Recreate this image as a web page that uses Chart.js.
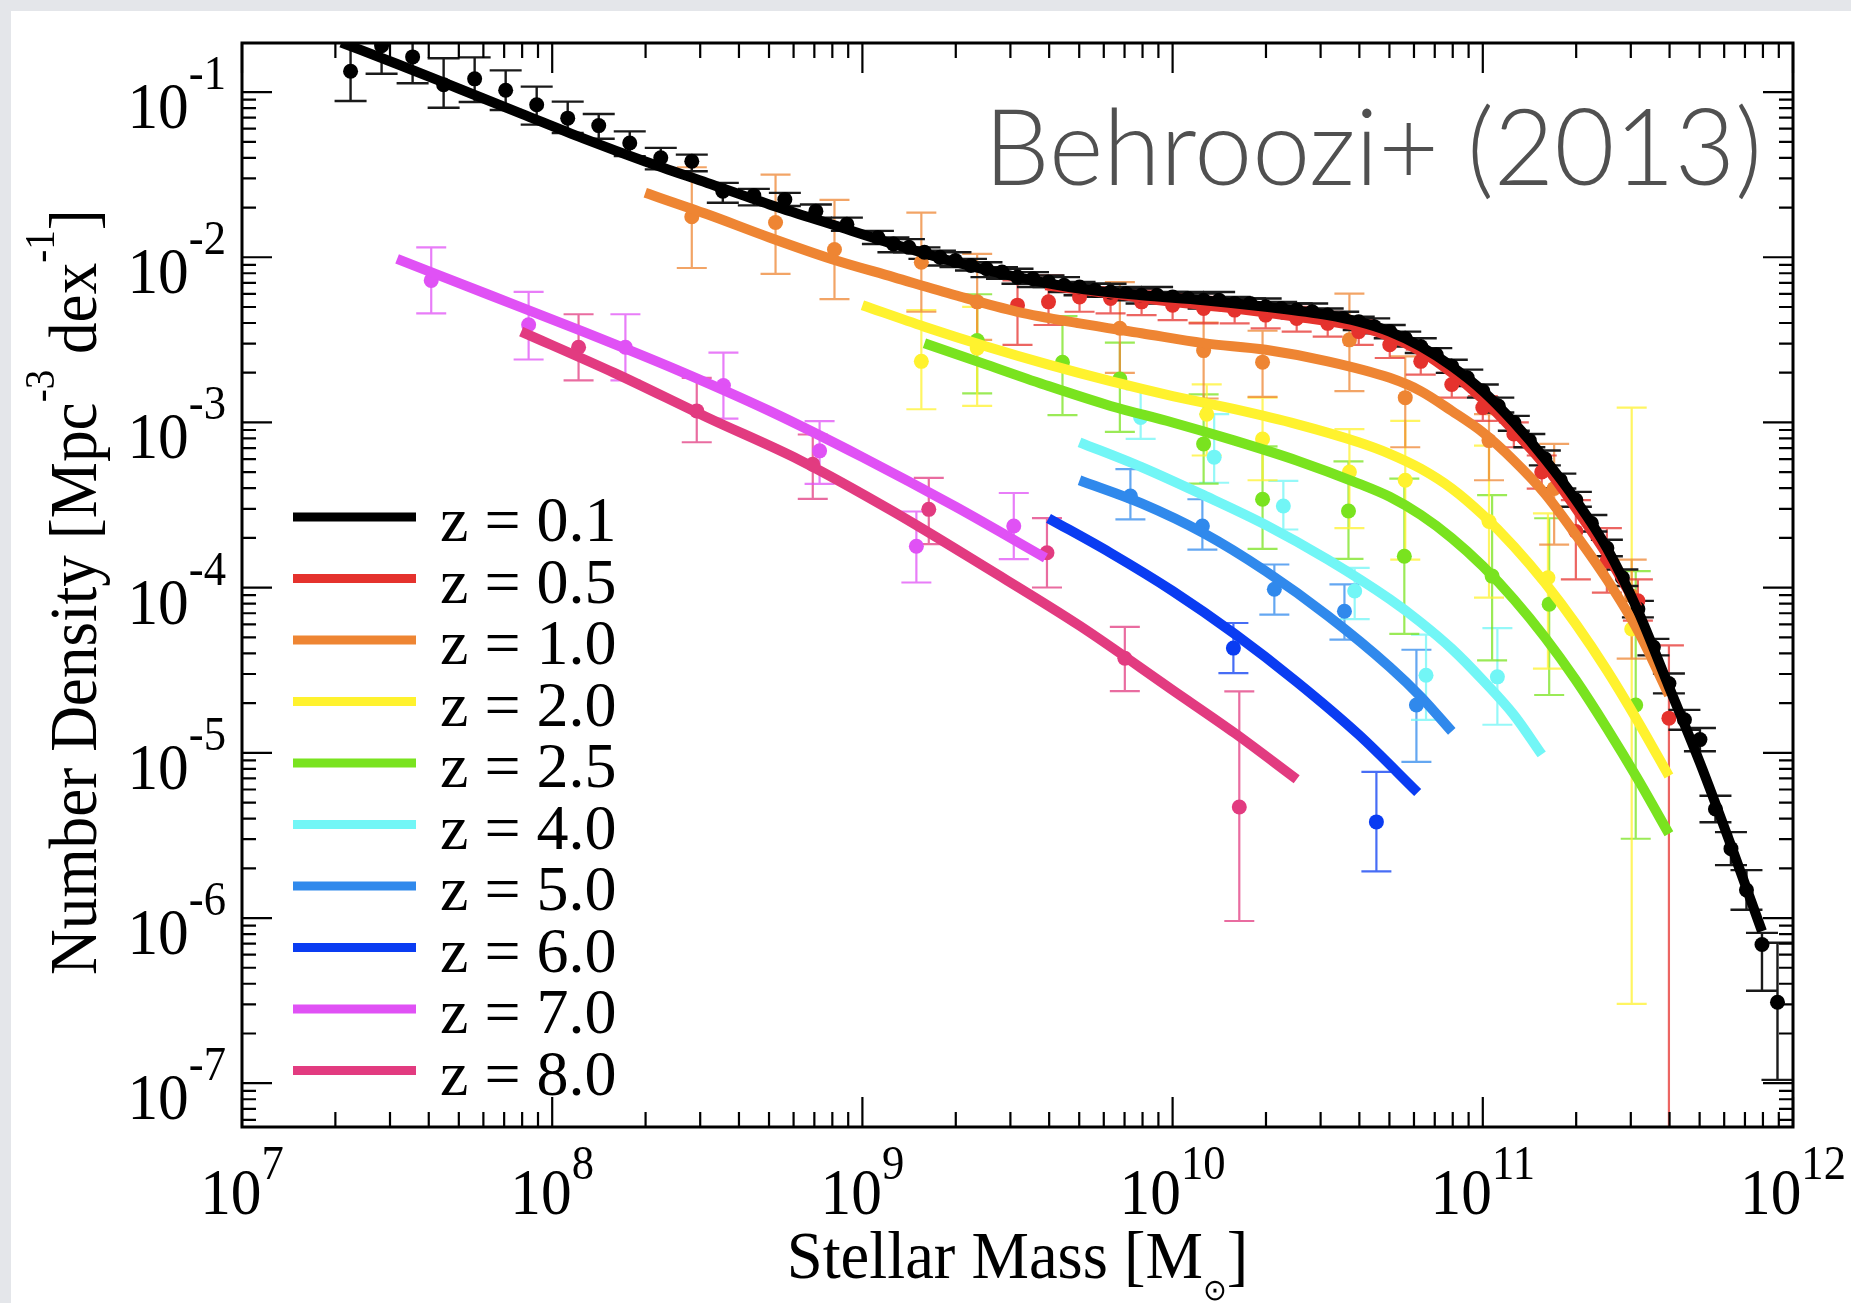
<!DOCTYPE html>
<html>
<head>
<meta charset="utf-8">
<title>Behroozi+ (2013) stellar mass functions</title>
<script src="https://cdn.jsdelivr.net/npm/chart.js@4.4.1/dist/chart.umd.min.js"></script>
<style>
  html, body { margin: 0; padding: 0; background: #e4e6ea; }
  canvas { display: block; }
</style>
</head>
<body>
<canvas id="smf" width="1851" height="1303"></canvas>
<script>
// axis ranges (log10) and tick exponents
const xRange = [7, 12];
const yRange = [-7.265, -0.703];
const xTickExps = [7, 8, 9, 10, 11, 12];
const yTickExps = [-7, -6, -5, -4, -3, -2, -1];

const zLabels = ['z = 0.1', 'z = 0.5', 'z = 1.0', 'z = 2.0', 'z = 2.5', 'z = 4.0', 'z = 5.0', 'z = 6.0', 'z = 7.0', 'z = 8.0'];
const zColors = ['#000000', '#e5322d', '#ee8533', '#fff22e', '#79e31f', '#72f6f6', '#3089ec', '#0a3cf2', '#e051f5', '#e23b80'];

// model fits: log10 stellar mass / log10 number density
const fitMass_z01 = [7.32, 7.5, 7.7, 7.9, 8.1, 8.3, 8.5, 8.7, 8.9, 9.1, 9.3, 9.5, 9.7, 9.9, 10.1, 10.3, 10.5, 10.6, 10.7, 10.8, 10.9, 11.0, 11.1, 11.2, 11.3, 11.4, 11.5, 11.6, 11.7, 11.8, 11.9];
const fitPhi_z01 = [-0.70, -0.83, -0.98, -1.13, -1.28, -1.42, -1.55, -1.68, -1.80, -1.92, -2.03, -2.12, -2.19, -2.23, -2.26, -2.30, -2.35, -2.39, -2.45, -2.54, -2.66, -2.81, -3.00, -3.22, -3.47, -3.76, -4.14, -4.60, -5.06, -5.56, -6.08];
const fitMass_z05 = [9.59, 9.8, 10.0, 10.2, 10.4, 10.6, 10.7, 10.8, 10.9, 11.0, 11.1, 11.2, 11.3, 11.4, 11.5];
const fitPhi_z05 = [-2.17, -2.22, -2.27, -2.31, -2.36, -2.42, -2.48, -2.57, -2.70, -2.86, -3.05, -3.26, -3.52, -3.80, -4.12];
const fitMass_z10 = [8.30, 8.5, 8.7, 8.9, 9.1, 9.3, 9.5, 9.7, 9.9, 10.1, 10.3, 10.5, 10.7, 10.8, 10.9, 11.0, 11.1, 11.2, 11.3, 11.4, 11.5, 11.6];
const fitPhi_z10 = [-1.61, -1.74, -1.88, -2.01, -2.12, -2.23, -2.33, -2.40, -2.46, -2.52, -2.56, -2.63, -2.73, -2.81, -2.93, -3.06, -3.23, -3.43, -3.68, -3.95, -4.26, -4.65];
const fitMass_z20 = [9.0, 9.2, 9.4, 9.6, 9.8, 10.0, 10.2, 10.4, 10.6, 10.7, 10.8, 10.9, 11.0, 11.1, 11.2, 11.3, 11.4, 11.5, 11.6];
const fitPhi_z20 = [-2.29, -2.42, -2.54, -2.65, -2.75, -2.84, -2.92, -3.01, -3.12, -3.19, -3.28, -3.40, -3.56, -3.75, -3.97, -4.22, -4.50, -4.81, -5.14];
const fitMass_z25 = [9.2, 9.4, 9.6, 9.8, 10.0, 10.2, 10.4, 10.6, 10.7, 10.8, 10.9, 11.0, 11.1, 11.2, 11.3, 11.4, 11.5, 11.6];
const fitPhi_z25 = [-2.52, -2.65, -2.78, -2.90, -3.00, -3.11, -3.23, -3.37, -3.45, -3.56, -3.70, -3.87, -4.07, -4.30, -4.56, -4.85, -5.16, -5.49];
const fitMass_z40 = [9.70, 9.9, 10.1, 10.3, 10.5, 10.7, 10.8, 10.9, 11.0, 11.1, 11.19];
const fitPhi_z40 = [-3.12, -3.27, -3.44, -3.62, -3.83, -4.07, -4.21, -4.37, -4.56, -4.77, -5.01];
const fitMass_z50 = [9.70, 9.9, 10.1, 10.3, 10.5, 10.7, 10.8, 10.9];
const fitPhi_z50 = [-3.35, -3.49, -3.67, -3.90, -4.17, -4.48, -4.66, -4.87];
const fitMass_z60 = [9.60, 9.8, 10.0, 10.2, 10.4, 10.6, 10.79];
const fitPhi_z60 = [-3.58, -3.79, -4.02, -4.28, -4.57, -4.89, -5.24];
const fitMass_z70 = [7.50, 7.8, 8.1, 8.4, 8.7, 9.0, 9.3, 9.59];
const fitPhi_z70 = [-2.01, -2.23, -2.45, -2.68, -2.93, -3.21, -3.51, -3.82];
const fitMass_z80 = [7.90, 8.2, 8.5, 8.8, 9.1, 9.4, 9.7, 10.0, 10.2, 10.40];
const fitPhi_z80 = [-2.45, -2.70, -2.97, -3.23, -3.54, -3.88, -4.23, -4.62, -4.88, -5.16];

// observations: log10 mass, log10 density, error down / up (dex)
const obsMass_z01 = [7.35, 7.45, 7.55, 7.65, 7.75, 7.85, 7.95, 8.05, 8.15, 8.25, 8.35, 8.45, 8.55, 8.65, 8.75, 8.85, 8.95,
  9.05, 9.10, 9.15, 9.20, 9.25, 9.30, 9.35, 9.40, 9.45, 9.50, 9.55, 9.60, 9.65, 9.70, 9.75, 9.80, 9.85, 9.90, 9.95,
  10.00, 10.05, 10.10, 10.15, 10.20, 10.25, 10.30, 10.35, 10.40, 10.45, 10.50, 10.55, 10.60, 10.65, 10.70, 10.75, 10.80, 10.85, 10.90, 10.95,
  11.00, 11.05, 11.10, 11.15, 11.20, 11.25, 11.30, 11.35, 11.40, 11.45, 11.50, 11.55, 11.60, 11.65, 11.70, 11.75, 11.80, 11.85, 11.90, 11.95];
const obsPhi_z01 = [-0.874, -0.719, -0.787, -0.955, -0.920, -0.989, -1.077, -1.158, -1.203, -1.308, -1.398, -1.419, -1.600, -1.626, -1.650, -1.721, -1.800,
  -1.88, -1.92, -1.94, -1.97, -2.00, -2.02, -2.05, -2.07, -2.09, -2.12, -2.13, -2.15, -2.17, -2.18, -2.20, -2.21, -2.22, -2.23, -2.23,
  -2.24, -2.25, -2.26, -2.26, -2.28, -2.28, -2.30, -2.31, -2.32, -2.33, -2.35, -2.37, -2.39, -2.42, -2.45, -2.49, -2.54, -2.59, -2.66, -2.73,
  -2.81, -2.90, -3.00, -3.11, -3.22, -3.35, -3.47, -3.61, -3.76, -3.94, -4.13, -4.36, -4.58, -4.80, -4.92, -5.34, -5.58, -5.83, -6.16, -6.51];
const obsErrDn_z01 = [0.18, 0.17, 0.16, 0.14, 0.14, 0.12, 0.12, 0.09, 0.08, 0.08, 0.07, 0.06, 0.07, 0.06, 0.04, 0.04, 0.04,
  0.04, 0.05, 0.03, 0.04, 0.05, 0.04, 0.03, 0.05, 0.04, 0.04, 0.05, 0.03, 0.04, 0.05, 0.04, 0.03, 0.04, 0.05, 0.04,
  0.04, 0.03, 0.05, 0.04, 0.04, 0.05, 0.03, 0.04, 0.05, 0.04, 0.04, 0.03, 0.05, 0.04, 0.04, 0.05, 0.04, 0.03, 0.04, 0.05,
  0.04, 0.04, 0.05, 0.04, 0.04, 0.05, 0.04, 0.05, 0.05, 0.05, 0.05, 0.05, 0.06, 0.06, 0.07, 0.08, 0.10, 0.12, 0.28, 0.47];
const obsErrUp_z01 = [0.18, 0.17, 0.16, 0.16, 0.13, 0.12, 0.11, 0.10, 0.07, 0.07, 0.06, 0.04, 0.05, 0.04, 0.04, 0.04, 0.04,
  0.04, 0.04, 0.05, 0.03, 0.04, 0.05, 0.04, 0.04, 0.03, 0.05, 0.04, 0.04, 0.05, 0.03, 0.04, 0.05, 0.04, 0.04, 0.05,
  0.03, 0.04, 0.04, 0.05, 0.04, 0.03, 0.05, 0.04, 0.04, 0.05, 0.04, 0.04, 0.03, 0.05, 0.04, 0.04, 0.05, 0.04, 0.04, 0.05,
  0.04, 0.05, 0.04, 0.04, 0.05, 0.04, 0.05, 0.05, 0.05, 0.05, 0.05, 0.05, 0.06, 0.06, 0.07, 0.08, 0.10, 0.12, 0.07, 0.36];

const obsMass_z05 = [9.50, 9.60, 9.70, 9.80, 9.90, 10.00, 10.10, 10.20, 10.30, 10.40, 10.50, 10.60, 10.70, 10.80, 10.90, 11.00, 11.10, 11.19, 11.30, 11.40, 11.50, 11.60];
const obsPhi_z05 = [-2.29, -2.27, -2.24, -2.25, -2.27, -2.29, -2.31, -2.32, -2.35, -2.37, -2.40, -2.45, -2.53, -2.63, -2.77, -2.91, -3.07, -3.30, -3.66, -3.84, -4.08, -4.79];
const obsErrDn_z05 = [0.24, 0.14, 0.09, 0.09, 0.08, 0.09, 0.09, 0.08, 0.08, 0.08, 0.08, 0.08, 0.08, 0.08, 0.08, 0.08, 0.08, 0.10, 0.29, 0.19, 0.12, 5.0];
const obsErrUp_z05 = [0.15, 0.16, 0.07, 0.07, 0.07, 0.07, 0.07, 0.07, 0.07, 0.07, 0.07, 0.07, 0.07, 0.07, 0.07, 0.07, 0.07, 0.10, 0.19, 0.20, 0.13, 0.44];

const obsMass_z10 = [8.45, 8.72, 8.91, 9.19, 9.37, 9.83, 10.10, 10.29, 10.57, 10.75, 11.02, 11.23, 11.48];
const obsPhi_z10 = [-1.755, -1.79, -1.953, -2.03, -2.27, -2.43, -2.565, -2.635, -2.50, -2.85, -3.11, -3.40, -4.05];
const obsErrDn_z10 = [0.31, 0.31, 0.30, 0.30, 0.23, 0.27, 0.29, 0.21, 0.31, 0.30, 0.24, 0.34, 0.38];
const obsErrUp_z10 = [0.30, 0.29, 0.30, 0.30, 0.29, 0.28, 0.17, 0.19, 0.28, 0.25, 0.16, 0.27, 0.22];

const obsMass_z20 = [9.19, 9.37, 10.11, 10.29, 10.57, 10.75, 11.02, 11.21, 11.48];
const obsPhi_z20 = [-2.63, -2.55, -2.95, -3.10, -3.30, -3.35, -3.60, -3.94, -4.25];
const obsErrDn_z20 = [0.29, 0.35, 0.25, 0.25, 0.34, 0.48, 0.46, 0.55, 2.27];
const obsErrUp_z20 = [0.31, 0.25, 0.18, 0.25, 0.26, 0.36, 0.46, 0.39, 1.34];

const obsMass_z25 = [9.37, 9.645, 9.83, 10.10, 10.29, 10.567, 10.747, 11.03, 11.214, 11.493];
const obsPhi_z25 = [-2.504, -2.636, -2.737, -3.13, -3.465, -3.536, -3.81, -3.93, -4.10, -4.71];
const obsErrDn_z25 = [0.32, 0.32, 0.32, 0.24, 0.30, 0.29, 0.47, 0.51, 0.55, 0.81];
const obsErrUp_z25 = [0.28, 0.28, 0.22, 0.30, 0.32, 0.30, 0.47, 0.49, 0.52, 0.81];

const obsMass_z40 = [9.897, 10.134, 10.357, 10.587, 10.817, 11.047];
const obsPhi_z40 = [-2.97, -3.21, -3.506, -4.02, -4.53, -4.54];
const obsErrDn_z40 = [0.13, 0.155, 0.142, 0.17, 0.27, 0.29];
const obsErrUp_z40 = [0.17, 0.26, 0.152, 0.14, 0.245, 0.295];

const obsMass_z50 = [9.864, 10.096, 10.328, 10.554, 10.786];
const obsPhi_z50 = [-3.445, -3.627, -4.01, -4.143, -4.71];
const obsErrDn_z50 = [0.142, 0.143, 0.153, 0.172, 0.345];
const obsErrUp_z50 = [0.162, 0.162, 0.15, 0.163, 0.334];

const obsMass_z60 = [10.196, 10.657];
const obsPhi_z60 = [-4.366, -5.418];
const obsErrDn_z60 = [0.152, 0.30];
const obsErrUp_z60 = [0.152, 0.303];

const obsMass_z70 = [7.61, 7.924, 8.236, 8.552, 8.862, 9.174, 9.488];
const obsPhi_z70 = [-2.14, -2.409, -2.545, -2.777, -3.172, -3.749, -3.627];
const obsErrDn_z70 = [0.20, 0.21, 0.20, 0.20, 0.20, 0.22, 0.20];
const obsErrUp_z70 = [0.20, 0.20, 0.20, 0.20, 0.18, 0.21, 0.20];

const obsMass_z80 = [8.085, 8.466, 8.84, 9.214, 9.595, 9.846, 10.215];
const obsPhi_z80 = [-2.545, -2.93, -3.253, -3.526, -3.789, -4.427, -5.328];
const obsErrDn_z80 = [0.20, 0.19, 0.21, 0.21, 0.21, 0.20, 0.69];
const obsErrUp_z80 = [0.20, 0.20, 0.18, 0.19, 0.21, 0.19, 0.70];

const series = [
  { fitM: fitMass_z01, fitP: fitPhi_z01, m: obsMass_z01, p: obsPhi_z01, dn: obsErrDn_z01, up: obsErrUp_z01 },
  { fitM: fitMass_z05, fitP: fitPhi_z05, m: obsMass_z05, p: obsPhi_z05, dn: obsErrDn_z05, up: obsErrUp_z05 },
  { fitM: fitMass_z10, fitP: fitPhi_z10, m: obsMass_z10, p: obsPhi_z10, dn: obsErrDn_z10, up: obsErrUp_z10 },
  { fitM: fitMass_z20, fitP: fitPhi_z20, m: obsMass_z20, p: obsPhi_z20, dn: obsErrDn_z20, up: obsErrUp_z20 },
  { fitM: fitMass_z25, fitP: fitPhi_z25, m: obsMass_z25, p: obsPhi_z25, dn: obsErrDn_z25, up: obsErrUp_z25 },
  { fitM: fitMass_z40, fitP: fitPhi_z40, m: obsMass_z40, p: obsPhi_z40, dn: obsErrDn_z40, up: obsErrUp_z40 },
  { fitM: fitMass_z50, fitP: fitPhi_z50, m: obsMass_z50, p: obsPhi_z50, dn: obsErrDn_z50, up: obsErrUp_z50 },
  { fitM: fitMass_z60, fitP: fitPhi_z60, m: obsMass_z60, p: obsPhi_z60, dn: obsErrDn_z60, up: obsErrUp_z60 },
  { fitM: fitMass_z70, fitP: fitPhi_z70, m: obsMass_z70, p: obsPhi_z70, dn: obsErrDn_z70, up: obsErrUp_z70 },
  { fitM: fitMass_z80, fitP: fitPhi_z80, m: obsMass_z80, p: obsPhi_z80, dn: obsErrDn_z80, up: obsErrUp_z80 }
];

const SERIF = '"Liberation Serif", "Times New Roman", serif';
const pow10 = v => Math.pow(10, v);

function alpha(hex, a) {
  const n = parseInt(hex.slice(1), 16);
  return 'rgba(' + (n >> 16) + ',' + ((n >> 8) & 255) + ',' + (n & 255) + ',' + a + ')';
}

// datasets: fit lines first (drawn on top), then points
const datasets = [];
series.forEach((s, i) => {
  datasets.push({
    label: zLabels[i],
    data: s.fitM.map((m, k) => ({ x: pow10(m), y: pow10(s.fitP[k]) })),
    showLine: true,
    borderColor: zColors[i],
    borderWidth: 10,
    pointRadius: 0,
    cubicInterpolationMode: 'monotone',
    fill: false,
    order: i
  });
});
series.forEach((s, i) => {
  datasets.push({
    label: zLabels[i] + ' data',
    data: s.m.map((m, k) => ({ x: pow10(m), y: pow10(s.p[k]) })),
    showLine: false,
    pointRadius: 7.5,
    pointBackgroundColor: zColors[i],
    pointBorderWidth: 0,
    order: 10 + i
  });
});

function runsWidth(ctx, runs) {
  let w = 0;
  runs.forEach(r => { ctx.font = r.size + 'px ' + SERIF; w += ctx.measureText(r.text).width; });
  return w;
}
function drawRuns(ctx, runs, x, y, sx) {
  ctx.save();
  ctx.translate(x, y);
  ctx.scale(sx, 1);
  let cx = 0;
  runs.forEach(r => {
    ctx.font = r.size + 'px ' + SERIF;
    ctx.fillText(r.text, cx, r.dy || 0);
    cx += ctx.measureText(r.text).width;
  });
  ctx.restore();
}

const errorBars = {
  id: 'errorBars',
  beforeDatasetsDraw(chart) {
    const { ctx, chartArea: a, scales: { x, y } } = chart;
    ctx.save();
    ctx.beginPath();
    ctx.rect(a.left, a.top, a.right - a.left, a.bottom - a.top);
    ctx.clip();
    for (let i = series.length - 1; i >= 0; i--) {
      const s = series[i];
      ctx.strokeStyle = i === 0 ? '#1a1a1a' : alpha(zColors[i], 0.75);
      ctx.lineWidth = i === 0 ? 2.4 : 2.2;
      const cap = i === 0 ? 16 : 15;
      s.m.forEach((m, k) => {
        const px = x.getPixelForValue(pow10(m));
        const lo = y.getPixelForValue(pow10(s.p[k] - s.dn[k]));
        const hi = y.getPixelForValue(pow10(s.p[k] + s.up[k]));
        ctx.beginPath();
        ctx.moveTo(px, lo); ctx.lineTo(px, hi);
        ctx.moveTo(px - cap, lo); ctx.lineTo(px + cap, lo);
        ctx.moveTo(px - cap, hi); ctx.lineTo(px + cap, hi);
        ctx.stroke();
      });
    }
    ctx.restore();
  }
};

const background = {
  id: 'background',
  beforeDraw(chart) {
    const ctx = chart.ctx;
    ctx.save();
    ctx.fillStyle = '#e4e6ea';
    ctx.fillRect(0, 0, chart.width, chart.height);
    ctx.fillStyle = '#ffffff';
    ctx.fillRect(11, 11, chart.width - 11, chart.height - 11);
    ctx.restore();
  }
};

const frame = {
  id: 'frame',
  afterDraw(chart) {
    const { ctx, chartArea: a, scales: { x, y } } = chart;
    ctx.save();
    ctx.strokeStyle = '#000';
    ctx.fillStyle = '#000';
    ctx.lineWidth = 3;
    ctx.strokeRect(a.left, a.top, a.right - a.left, a.bottom - a.top);

    // ticks
    ctx.lineWidth = 2.2;
    ctx.beginPath();
    for (let d = xRange[0]; d <= xRange[1]; d++) {
      for (let k = 1; k <= 9; k++) {
        const v = k * pow10(d);
        if (Math.log10(v) > xRange[1] + 1e-9) break;
        const px = x.getPixelForValue(v);
        const len = k === 1 ? 30 : 15;
        ctx.moveTo(px, a.bottom); ctx.lineTo(px, a.bottom - len);
        ctx.moveTo(px, a.top); ctx.lineTo(px, a.top + len);
      }
    }
    for (let d = -8; d <= -1; d++) {
      for (let k = 1; k <= 9; k++) {
        const lv = Math.log10(k * pow10(d));
        if (lv < yRange[0] || lv > yRange[1]) continue;
        const py = y.getPixelForValue(pow10(lv));
        const len = k === 1 ? 30 : 14;
        ctx.moveTo(a.left, py); ctx.lineTo(a.left + len, py);
        ctx.moveTo(a.right, py); ctx.lineTo(a.right - len, py);
      }
    }
    ctx.stroke();

    // tick labels
    ctx.textBaseline = 'alphabetic';
    ctx.textAlign = 'left';
    const sxT = 0.93;
    xTickExps.forEach(e => {
      const runs = [{ text: '10', size: 66 }, { text: String(e), size: 48, dy: -35 }];
      const w = runsWidth(ctx, runs) * sxT;
      drawRuns(ctx, runs, x.getPixelForValue(pow10(e)) - w / 2, 1214, sxT);
    });
    yTickExps.forEach(e => {
      const runs = [{ text: '10', size: 66 }, { text: String(e), size: 48, dy: -39 }];
      const w = runsWidth(ctx, runs) * sxT;
      drawRuns(ctx, runs, 226 - w, y.getPixelForValue(pow10(e)) + 36, sxT);
    });

    // axis titles
    const xt = [{ text: 'Stellar Mass [M', size: 68 }, { text: '\u2299', size: 30, dy: 22 }, { text: ']', size: 68 }];
    const wx = runsWidth(ctx, xt) * 0.95;
    drawRuns(ctx, xt, (a.left + a.right) / 2 - wx / 2, 1278, 0.95);

    const yt = [{ text: 'Number Density [Mpc', size: 68 }, { text: '-3', size: 42, dy: -42 }, { text: ' dex', size: 68 },
      { text: '-1', size: 42, dy: -42 }, { text: ']', size: 68 }];
    ctx.save();
    ctx.translate(96, 592);
    ctx.rotate(-Math.PI / 2);
    const wy = runsWidth(ctx, yt) * 0.93;
    drawRuns(ctx, yt, -wy / 2, 0, 0.93);
    ctx.restore();

    // legend
    zLabels.forEach((lab, i) => {
      const ly = 517 + i * 61.5;
      ctx.strokeStyle = zColors[i];
      ctx.lineWidth = 9;
      ctx.beginPath();
      ctx.moveTo(293, ly); ctx.lineTo(416, ly);
      ctx.stroke();
      ctx.fillStyle = '#000';
      ctx.font = '64px ' + SERIF;
      ctx.fillText(lab, 440, ly + 24);
    });

    // annotation
    ctx.font = '300 106px Lato, "Open Sans", sans-serif';
    const note = 'Behroozi+ (2013)';
    const nw = ctx.measureText(note).width;
    const ns = 778 / nw;
    ctx.save();
    ctx.translate(1762 - 778, 185);
    ctx.scale(ns, 1);
    ctx.fillStyle = '#505050';
    ctx.fillText(note, 0, 0);
    ctx.restore();

    ctx.restore();
  }
};

new Chart(document.getElementById('smf'), {
  type: 'scatter',
  data: { datasets: datasets },
  options: {
    responsive: false,
    animation: false,
    devicePixelRatio: 1,
    layout: { padding: { left: 242, top: 43, right: 58, bottom: 176 } },
    plugins: { legend: { display: false }, tooltip: { enabled: false } },
    scales: {
      x: { type: 'logarithmic', display: false, min: pow10(xRange[0]), max: pow10(xRange[1]) },
      y: { type: 'logarithmic', display: false, min: pow10(yRange[0]), max: pow10(yRange[1]) }
    }
  },
  plugins: [background, errorBars, frame]
});
</script>
</body>
</html>
